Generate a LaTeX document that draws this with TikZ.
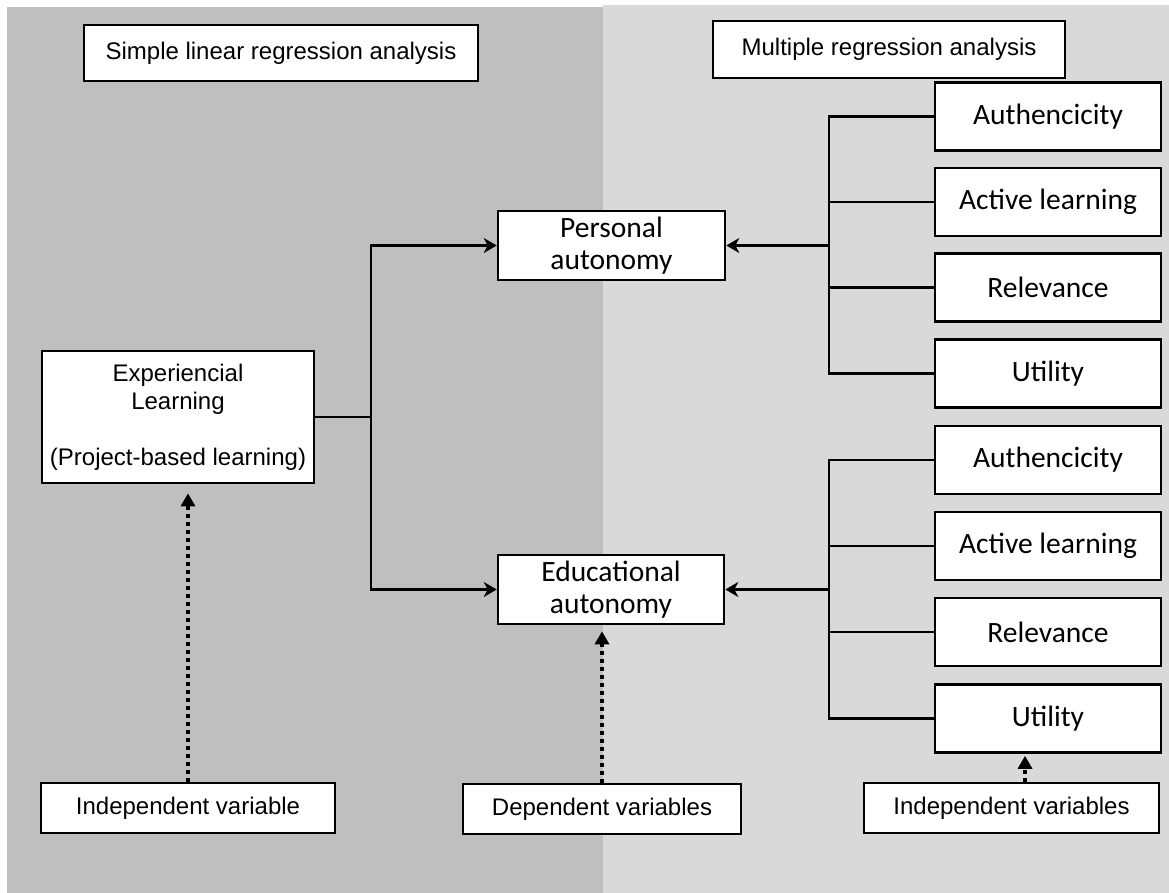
\documentclass[tikz,border=0pt]{standalone}
\usepackage{fontspec}
\setmainfont{Liberation Sans}
\newfontfamily\calfont{Carlito}
\usetikzlibrary{arrows.meta}
\definecolor{leftbg}{HTML}{BFBFBF}
\definecolor{rightbg}{HTML}{D9D9D9}
\begin{document}
\begin{tikzpicture}[x=1pt,y=-1pt,
  box/.style={draw=black, fill=white, line width=2.6pt, inner sep=0pt, align=center},
  arialbox/.style={box, font=\fontsize{24}{28}\selectfont},
  calbox/.style={box, font=\calfont\fontsize{29.5}{32}\selectfont},
  varbox/.style={calbox, minimum width=226pt, minimum height=68pt},
  link/.style={line width=2.6pt, line join=miter},
  arr/.style={link, -{Stealth[length=13pt,width=15pt,inset=4pt]}},
  dotarr/.style={line width=4pt, dash pattern=on 4pt off 4pt, -{Triangle[length=13pt,width=14pt]}},
  ]
\useasboundingbox (0,0) rectangle (1169,893);
% two analysis panels
\fill[leftbg] (7,7) rectangle (603,893);
\fill[rightbg] (603,5) rectangle (1169,893);

% panel headings
\node[arialbox, minimum width=394pt, minimum height=56pt] (simple) at (281,53) {Simple linear regression analysis};
\node[arialbox, minimum width=352pt, minimum height=57pt] (multiple) at (889,49.5) {Multiple regression analysis};

% main variables
\node[arialbox, minimum width=272pt, minimum height=132pt] (exp) at (178,417)
  {Experiencial\\Learning\\\mbox{}\\(Project-based learning)};
\node[calbox, minimum width=227pt, minimum height=69pt] (pers) at (611.5,245.5) {Personal\\autonomy};
\node[calbox, minimum width=226pt, minimum height=69pt] (edu) at (611,589.5) {Educational\\autonomy};

% dimensions of personal autonomy
\node[varbox] (a1) at (1048,116.5) {Authencicity};
\node[varbox] (a2) at (1048,202) {Active learning};
\node[varbox] (a3) at (1048,287.5) {Relevance};
\node[varbox] (a4) at (1048,373.5) {Utility};
% dimensions of educational autonomy
\node[varbox] (b1) at (1048,460) {Authencicity};
\node[varbox] (b2) at (1048,546) {Active learning};
\node[varbox] (b3) at (1048,632) {Relevance};
\node[varbox] (b4) at (1048,718.5) {Utility};

% variable type labels
\node[arialbox, minimum width=294pt, minimum height=50pt] (ind1) at (188,808) {Independent variable};
\node[arialbox, minimum width=278pt, minimum height=50pt] (dep) at (602,809) {Dependent variables};
\node[arialbox, minimum width=295pt, minimum height=50pt] (ind2) at (1011.5,808) {Independent variables};

% simple regression links
\coordinate (jl) at (371,417);
\draw[link] (exp.east) -- (jl);
\draw[arr] (jl) |- (pers.west);
\draw[arr] (jl) |- (edu.west);

% multiple regression links
\coordinate (jr1) at (829,245.5);
\coordinate (jr2) at (829,589.5);
\draw[link] (a1.west) -| (jr1) |- (a4.west);
\draw[link] (a2.west) -- (a2.west -| jr1);
\draw[link] (a3.west) -- (a3.west -| jr1);
\draw[arr] (jr1) -- (pers.east);
\draw[link] (b1.west) -| (jr2) |- (b4.west);
\draw[link] (b2.west) -- (b2.west -| jr2);
\draw[link] (b3.west) -- (b3.west -| jr2);
\draw[arr] (jr2) -- (edu.east);

% label pointers
\draw[dotarr, shorten >=9pt] (ind1.north) -- (ind1.north |- exp.south);
\draw[dotarr, shorten >=6pt] (dep.north) -- (dep.north |- edu.south);
\draw[dotarr, shorten >=2pt] ([xshift=13.5pt]ind2.north) -- ([xshift=13.5pt]ind2.north |- b4.south);
\end{tikzpicture}
\end{document}
